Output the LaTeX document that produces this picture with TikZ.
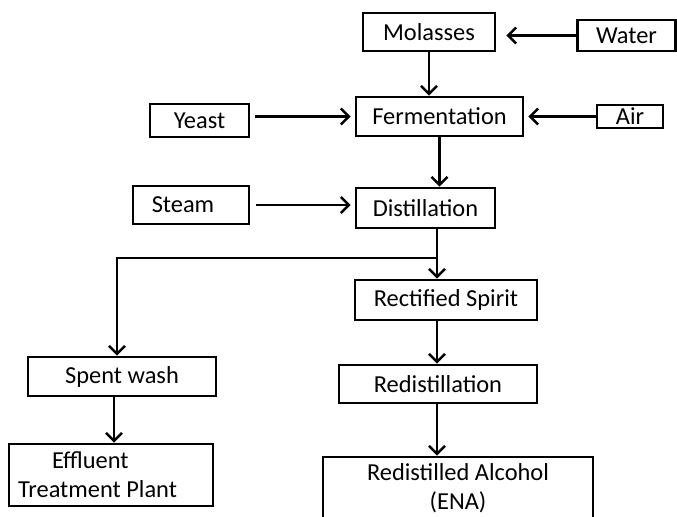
\documentclass[tikz,border=0pt]{standalone}
\usepackage{fontspec}
\setmainfont{Carlito}
\usepackage{tikz}
\usetikzlibrary{positioning, arrows, arrows.meta}

\begin{document}
\begin{tikzpicture}[
    x=0.5pt, y=-0.5pt, % one unit = one pixel of the sketch, y downwards
    every node/.style={draw, line width=1.3pt, inner sep=2pt,
        font=\fontsize{12.2}{14.6}\selectfont},
    >={Straight Barb[length=4pt, width=8pt]},
    flow/.style={->, line width=1.3pt}
]
    \useasboundingbox (0,0) rectangle (677,516);

    % 1. The boxes of the process, placed at their centres
    \node[minimum width=66pt, minimum height=19pt] (molasses) at (429,32) {Molasses};
    \node[minimum width=49pt, minimum height=15.5pt] (water) at (626.5,35.5) {Water};
    \node[minimum width=83.5pt, minimum height=19.5pt] (ferm) at (439.5,116.5) {Fermentation};
    \node[minimum width=33pt, minimum height=11.5pt, inner sep=0pt] (air) at (630,116.5) {Air};
    \node[minimum width=49.5pt, minimum height=16.5pt] (yeast) at (199.5,120.5) {Yeast};
    \node[minimum width=58pt, minimum height=19pt] (steam) at (191,205) {\hspace*{-8pt}Steam};
    \node[minimum width=69.5pt, minimum height=20pt] (distill) at (425.5,208) {Distillation};
    \node[minimum width=91pt, minimum height=20pt] (rect) at (446,300) {Rectified Spirit};
    \node[minimum width=99pt, minimum height=19pt] (redist) at (438,384) {Redistillation};
    \node[minimum width=135pt, minimum height=31.5pt, align=center] (ena) at (458,488.5)
        {Redistilled Alcohol\\(ENA)};
    \node[minimum width=94pt, minimum height=19.5pt] (spent) at (122,376.5) {Spent wash};
    \node[minimum width=102pt, minimum height=31pt, align=left] (effluent) at (111,475)
        {\hspace*{17pt}Effluent\\Treatment Plant\hspace*{13.5pt}};

    % 2. The split below the distillation
    \coordinate (split) at (437,258);

    % 3. The arrows
    \draw[flow, shorten >=5pt] (water.west) -- (molasses.east |- water.west);
    \draw[flow] (molasses.south) -- (molasses.south |- ferm.north);
    \draw[flow, shorten <=2.5pt, shorten >=2pt] (yeast.east |- ferm.west) -- (ferm.west);
    \draw[flow, shorten >=2pt] (air.west) -- (ferm.east);
    \draw[flow] (ferm.south) -- (ferm.south |- distill.north);
    \draw[flow, shorten <=3pt, shorten >=2pt] (steam.east) -- (steam.east -| distill.west);
    \draw[line width=1.3pt] (split |- distill.south) -- (split);
    \draw[flow] (split) -- (split |- rect.north);
    \draw[flow] (split) -| ([xshift=-2.5pt]spent.north);
    \draw[flow] (split |- rect.south) -- (split |- redist.north);
    \draw[flow] (split |- redist.south) -- (split |- ena.north);
    \draw[flow] ([xshift=-4pt]spent.south) -- ([xshift=-4pt]spent.south |- effluent.north);

\end{tikzpicture}
\end{document}
